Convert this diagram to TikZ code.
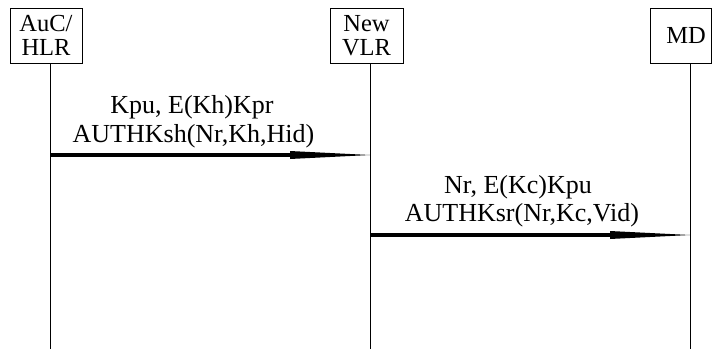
\documentclass[tikz,border=0pt]{standalone}
\usepackage{fontspec}
\setmainfont{Liberation Serif}
\begin{document}
\begin{tikzpicture}[x=1pt,y=-1pt,
  entity/.style={draw,line width=0.8pt,inner sep=0pt,align=center,
    font=\fontsize{24.5}{24}\selectfont},
  lifeline/.style={line width=0.8pt},
  msgline/.style={line width=4pt},
  msghead/.style={fill=black},
  msglabel/.style={anchor=base,inner sep=0pt,font=\fontsize{26}{29}\selectfont}]
  \useasboundingbox (0,0) rectangle (713,349);
  % participants
  \node[entity,minimum width=72pt,minimum height=55pt] (hlr) at (46,35.5) {AuC/\\HLR};
  \node[entity,minimum width=73pt,minimum height=55pt] (vlr) at (366.5,35.5) {New\\VLR};
  \node[entity,minimum width=61pt,minimum height=55pt,text width=61pt] (md) at (680.5,35.5) {\hspace*{11pt}MD};
  % lifelines
  \coordinate (hlrtop) at (50,63);
  \coordinate (hlrbot) at (50,349);
  \coordinate (vlrtop) at (370,63);
  \coordinate (vlrbot) at (370,349);
  \coordinate (mdtop) at (690,63);
  \coordinate (mdbot) at (690,349);
  \draw[lifeline] (hlrtop) -- (hlrbot);
  \draw[lifeline] (vlrtop) -- (vlrbot);
  \draw[lifeline] (mdtop) -- (mdbot);
  % messages: thick shaft plus a long slender head
  \coordinate (m1s) at (50,155);
  \coordinate (m1h) at (290,155);
  \coordinate (m1e) at (370,155);
  \coordinate (m2s) at (370,235);
  \coordinate (m2h) at (610,235);
  \coordinate (m2e) at (690,235);
  \draw[msgline] (m1s) -- (m1h);
  \fill[msghead] ([yshift=-4pt]m1h) -- (m1e) -- ([yshift=4pt]m1h) -- cycle;
  \draw[msgline] (m2s) -- (m2h);
  \fill[msghead] ([yshift=-4pt]m2h) -- (m2e) -- ([yshift=4pt]m2h) -- cycle;
  \node[msglabel] (l1a) at (192,113) {Kpu, E(Kh)Kpr};
  \node[msglabel] (l1b) at (193.5,142) {AUTHKsh(Nr,Kh,Hid)};
  \node[msglabel] (l2a) at (518,193) {Nr, E(Kc)Kpu};
  \node[msglabel] (l2b) at (522,221) {AUTHKsr(Nr,Kc,Vid)};
\end{tikzpicture}
\end{document}
